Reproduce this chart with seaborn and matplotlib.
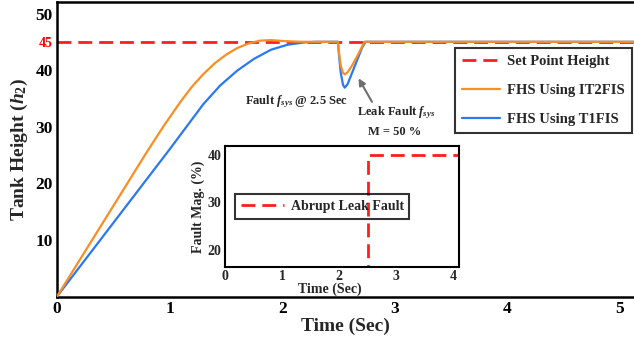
import matplotlib
matplotlib.use("Agg")
import matplotlib.pyplot as plt
import seaborn as sns

# ---- data -------------------------------------------------------------
set_point = 45.0
t_end = 5.13

time_it2 = [0, 0.2, 0.4, 0.6, 0.8, 0.95, 1.1, 1.2, 1.3, 1.4, 1.5, 1.6, 1.7,
            1.8, 1.9, 2.0, 2.1, 2.2, 2.495, 2.505, 2.52, 2.54, 2.555, 2.58,
            2.62, 2.67, 2.71, 2.73, 5.13]
height_it2 = [0, 6.4, 12.8, 19.2, 25.6, 30.2, 34.5, 37.1, 39.3, 41.2, 42.7,
              43.9, 44.7, 45.2, 45.3, 45.15, 45.05, 45.0, 45.0, 43.0, 40.8,
              39.5, 39.25, 39.6, 40.8, 42.6, 44.2, 45.0, 45.0]

time_t1 = [0, 0.2, 0.4, 0.6, 0.8, 1.0, 1.15, 1.3, 1.45, 1.6, 1.75, 1.9, 2.05,
           2.2, 2.3, 2.495, 2.505, 2.52, 2.54, 2.555, 2.58, 2.62, 2.67, 2.71,
           2.74, 5.13]
height_t1 = [0, 5.2, 10.4, 15.6, 20.8, 26.0, 30.0, 34.0, 37.3, 39.9, 42.0,
             43.6, 44.5, 44.9, 45.0, 45.0, 42.5, 39.5, 37.4, 36.9, 37.5, 39.5,
             42.0, 44.0, 45.0, 45.0]

fault_time = [0, 2.5, 2.5, 4.2]
fault_mag = [0, 0, 40, 40]

main_xticks = [0, 1, 2, 3, 4, 5]
main_yticks = [10, 20, 30, 40, 45, 50]
inset_xticks = [0, 1, 2, 3, 4]
inset_yticks = [20, 30, 40]

legend_labels = ["Set Point Height", "FHS Using IT2FIS", "FHS Using T1FIS"]

RED = "#FF1E1E"
ORANGE = "#F98E22"
BLUE = "#2A78F2"
DASH = (0, (5, 2.5))

# ---- style ------------------------------------------------------------
sns.set_style("white")
plt.rcParams["font.family"] = ["Liberation Serif", "DejaVu Serif"]
plt.rcParams["font.weight"] = "bold"
plt.rcParams["axes.labelweight"] = "bold"
plt.rcParams["mathtext.fontset"] = "custom"
plt.rcParams["mathtext.rm"] = "Liberation Serif:bold"
plt.rcParams["mathtext.it"] = "Liberation Serif:bold:italic"
plt.rcParams["mathtext.bf"] = "Liberation Serif:bold"

fig = plt.figure(figsize=(6.34, 3.4), dpi=100)
ax = fig.add_axes([57 / 634, 43.5 / 340, 577 / 634, 294.3 / 340])

# ---- main curves ------------------------------------------------------
sns.lineplot(x=[0, t_end], y=[set_point, set_point], ax=ax, color=RED,
             lw=2.0, linestyle=DASH, legend=False, zorder=2)
h_sp = ax.lines[-1]
sns.lineplot(x=time_t1, y=height_t1, ax=ax, color=BLUE, lw=1.6,
             estimator=None, sort=False, legend=False, zorder=3)
h_t1 = ax.lines[-1]
sns.lineplot(x=time_it2, y=height_it2, ax=ax, color=ORANGE, lw=1.6,
             estimator=None, sort=False, legend=False, zorder=4)
h_it2 = ax.lines[-1]

ax.set_xlim(0, 5.124)
ax.set_ylim(0, 52)
ax.set_xticks(main_xticks)
ax.set_yticks(main_yticks)
ax.tick_params(direction="in", length=5, width=1.5, labelsize=12.5, pad=3,
               colors="black")
ax.yaxis.get_major_ticks()[main_yticks.index(45)].label1.set_color("red")
ax.yaxis.get_major_ticks()[main_yticks.index(45)].label1.set_fontsize(10)
for side in ["left", "bottom", "top"]:
    ax.spines[side].set_linewidth(1.8)
    ax.spines[side].set_color("black")
ax.spines["right"].set_visible(False)

ax.set_xlabel("Time (Sec)", fontsize=14, labelpad=1)
ax.set_ylabel(r"Tank Height ($h_2$)", fontsize=14, labelpad=4)

leg = ax.legend([h_sp, h_it2, h_t1], legend_labels, loc="upper right",
                bbox_to_anchor=(632 / 634, 292 / 340),
                bbox_transform=fig.transFigure, fontsize=10.5,
                frameon=True, fancybox=False, edgecolor="black",
                handlelength=2.6, handletextpad=0.45, borderpad=0.5,
                labelspacing=1.06, borderaxespad=0)
leg.get_frame().set_linewidth(1.5)

# ---- annotations ------------------------------------------------------
ax.text(2.124, 34.5, r"Fault $f_{sys}$ @ 2.5 Sec", ha="center",
        va="center", fontsize=9)
ax.text(3.013, 32.4, r"Leak Fault $f_{sys}$", ha="center", va="center",
        fontsize=9)
ax.text(2.996, 29.1, "M = 50 %", ha="center", va="center", fontsize=9)
ax.annotate("", xy=(2.678, 38.55), xytext=(2.797, 34.4),
            arrowprops=dict(arrowstyle="-|>", color="#6e6e6e", lw=1.5,
                            mutation_scale=10, shrinkA=0, shrinkB=0))

# ---- inset: fault magnitude -------------------------------------------
axin = fig.add_axes([225 / 634, 73 / 340, 234 / 634, 121 / 340])
axin.set_facecolor("white")
sns.lineplot(x=fault_time, y=fault_mag, ax=axin, color=RED, lw=2.0,
             linestyle=DASH, estimator=None, sort=False, legend=False)
h_fault = axin.lines[-1]
axin.set_xlim(0, 4.1)
axin.set_ylim(16.4, 41.9)
axin.set_xticks(inset_xticks)
axin.set_yticks(inset_yticks)
axin.tick_params(direction="in", length=4, width=1.3, labelsize=10, pad=2.5)
for side in axin.spines.values():
    side.set_linewidth(1.5)
    side.set_color("black")
axin.set_xlabel("Time (Sec)", fontsize=10, labelpad=0)
axin.xaxis.set_label_coords(0.45, -0.13)
axin.set_ylabel("Fault Mag. (%)", fontsize=10, labelpad=2)

leg2 = axin.legend([h_fault], ["Abrupt Leak Fault"], loc="center left",
                   bbox_to_anchor=(0.043, 0.5), fontsize=10, frameon=True,
                   fancybox=False, edgecolor="black", facecolor="none",
                   handlelength=3.1, handletextpad=0.5, borderpad=0.4,
                   borderaxespad=0)
leg2.get_frame().set_linewidth(1.5)

fig.savefig("out.png", dpi=100)
